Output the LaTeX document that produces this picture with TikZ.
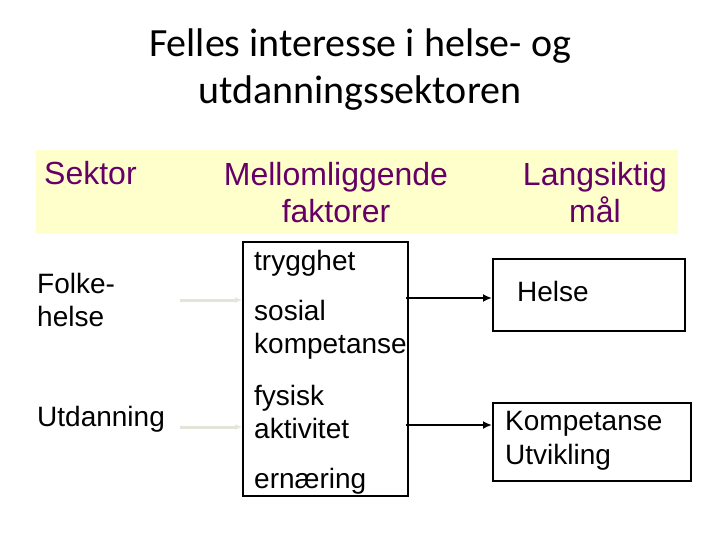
\documentclass[tikz,border=0pt]{standalone}
\usepackage{fontspec}
\setmainfont{Liberation Sans}
\newfontfamily\titlefont{Carlito}
\usetikzlibrary{arrows.meta}
\definecolor{headpurple}{HTML}{660066}
\definecolor{headyellow}{HTML}{FFFFCC}
\definecolor{palearrow}{HTML}{E4E4D8}
\tikzset{
  head/.style={text=headpurple,align=center,font=\fontsize{32}{37}\selectfont},
  body/.style={anchor=base west,inner sep=0pt,font=\fontsize{28}{33.6}\selectfont},
  goalbox/.style={draw,line width=1.5pt,anchor=north west,inner sep=0pt},
  feed/.style={palearrow,line width=3pt,-{Latex[length=7pt,width=6pt]}},
  link/.style={line width=2.5pt,-{Latex[length=9pt,width=8pt]}}
}
\begin{document}
\begin{tikzpicture}[x=1pt,y=-1pt]
\useasboundingbox (0,0) rectangle (720,540);
% title
\node[font=\titlefont\fontsize{40}{47}\selectfont,align=center,anchor=base] (title) at (360,104)
  {Felles interesse i helse- og\\utdanningssektoren};
% header band
\fill[headyellow] (36,150) rectangle (678,234);
\node[head,anchor=base west,inner sep=0pt] (hsek) at (44,185) {Sektor};
\node[head,anchor=north,inner sep=0pt] (hmel) at (336,162) {Mellomliggende\\faktorer};
\node[head,anchor=north,inner sep=0pt] (hmal) at (595,162) {Langsiktig\\mål};
% sectors
\node[body] (folke) at (37,293) {Folke-};
\node[body] (helse) at (37,326) {helse};
\node[body] (utd) at (37,426) {Utdanning};
% middle factors
\node[draw,line width=1.5pt,minimum width=165,minimum height=254,inner sep=0pt] (mid) at (325.5,369) {};
\foreach \n/\y/\t in {f1/270/trygghet,f2/320/sosial,f3/353/kompetanse,f4/405/fysisk,f5/438/aktivitet,f6/488/ernæring}
  \node[body] (\n) at (254,\y) {\t};
% long term goals
\node[goalbox,minimum width=192,minimum height=72] (gh) at (492,258) {};
\node[body] (ghtxt) at (517,301) {Helse};
\node[goalbox,minimum width=198,minimum height=78] (gk) at (492,402) {};
\node[body,align=left,anchor=north west] (gktxt) at (505,411) {Kompetanse\\Utvikling};
% arrows
\coordinate (s1) at (180,300);
\coordinate (s2) at (180,427);
\coordinate (m1) at (406,298);
\coordinate (m2) at (406,425);
\draw[feed] (s1) -- (mid.west |- s1);
\draw[feed] (s2) -- (mid.west |- s2);
\draw[link] (m1) -- (gh.west |- m1);
\draw[link] (m2) -- (gk.west |- m2);
\end{tikzpicture}
\end{document}
